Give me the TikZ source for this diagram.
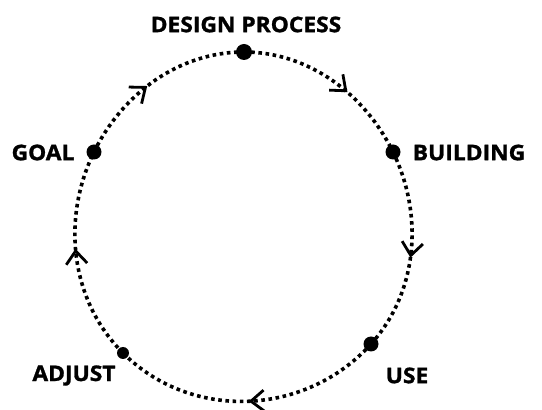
\documentclass[tikz,border=0pt]{standalone}
\usepackage{fontspec}
\setmainfont{Open Sans}[FakeBold=1.3,FakeStretch=1.06]
\usetikzlibrary{arrows.meta,decorations.markings}
\begin{document}
\begin{tikzpicture}[x=1pt,y=1pt,
  dot/.style={circle,fill=black,inner sep=0pt,minimum size=#1},
  lbl/.style={font=\bfseries\fontsize{21.5}{21.5}\selectfont,inner sep=0pt},
  flow/.style={line width=3.6pt,dash pattern=on 3.6pt off 3.6pt,
     postaction={decorate},
     decoration={markings,mark=at position #1 with {\arrow{Straight Barb[length=13pt,width=21pt,line width=2.8pt]}}}},
  flow/.default=0.5]
\useasboundingbox (0,0) rectangle (542,410);
% dots
\node[dot=16pt] (design) at (244,358) {};
\node[dot=15pt] (goal) at (94,258) {};
\node[dot=15pt] (building) at (393,258) {};
\node[dot=15pt] (use) at (371,66) {};
\node[dot=12pt] (adjust) at (123,57) {};
% labels
\node[lbl] (tdesign) at (246,385.5) {DESIGN PROCESS};
\node[lbl] (tgoal) at (43,257.5) {GOAL};
\node[lbl] (tbuilding) at (469,257.5) {BUILDING};
\node[lbl] (tuse) at (407,34.5) {USE};
\node[lbl] (tadjust) at (74,34.5) {ADJUST};
% connectors
\draw[flow=0.45] (goal.center) to[out=64,in=180,looseness=0.92] (design.center);
\draw[flow=0.6] (design.center) to[out=0,in=116,looseness=0.92] (building.center);
\draw[flow=0.53] (building.center) to[out=-64,in=48,looseness=0.93] (use.center);
\draw[flow=0.5] (use.center) to[out=-132,in=-45,looseness=1.0] (adjust.center);
\draw[flow=0.54] (adjust.center) to[out=135,in=244,looseness=0.94] (goal.center);
\end{tikzpicture}
\end{document}
